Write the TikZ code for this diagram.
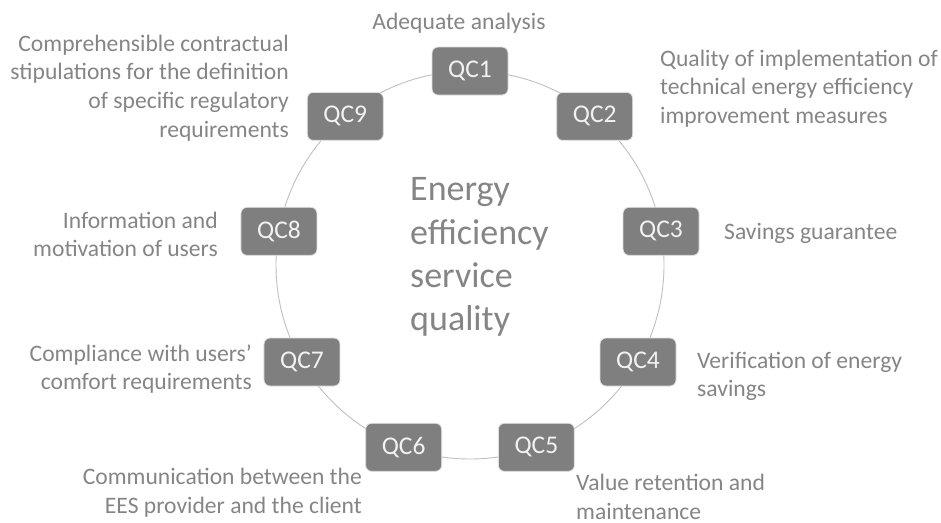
\documentclass[tikz,border=0pt]{standalone}
\usepackage{fontspec}
\setmainfont{Carlito}
\usepackage{tikz}
\usetikzlibrary{calc}

\definecolor{boxgray}{HTML}{7F7F7F}
\definecolor{txtgray}{HTML}{858585}
\definecolor{ringgray}{HTML}{BFBFBF}

\tikzset{
  qcbox/.style={rectangle, rounded corners=6pt, fill=boxgray, draw=white!88!black,
    line width=0.8pt, minimum width=76pt, minimum height=48pt, inner sep=0pt,
    text=white!95!black, font=\fontsize{25.5}{30}\selectfont},
  lbl/.style={inner sep=0pt, text=txtgray, font=\fontsize{23.6}{28.6}\selectfont},
  ring/.style={draw=ringgray, line width=0.9pt}
}

\begin{document}
\begin{tikzpicture}[x=1pt,y=-1pt]

	\useasboundingbox (0,0) rectangle (941,522);

	% ring and title

	\coordinate (mid) at (470,265);
	\draw[ring] (mid) circle[radius=194pt];
	\node[lbl, anchor=west, align=left, font=\fontsize{36}{43.3}\selectfont] (title) at (410,257)
		{Energy\\efficiency\\service\\quality};

	% quality criteria boxes

	\foreach \i in {1,...,9}
		\node[qcbox] (qc\i) at ($(mid)+({40*\i-130}:194)$) {QC\i};

	% descriptions

	\node[lbl, anchor=center] (lab1) at (459,23) {Adequate analysis};
	\node[lbl, anchor=west, align=left] (lab2) at (660,88.5)
		{Quality of implementation of\\technical energy efficiency\\improvement measures};
	\node[lbl, anchor=west] (lab3) at (724,233) {Savings guarantee};
	\node[lbl, anchor=west, align=left] (lab4) at (697,376.5)
		{Verification of energy\\savings};
	\node[lbl, anchor=west, align=left] (lab5) at (576,497)
		{Value retention and\\maintenance};
	\node[lbl, anchor=east, align=right] (lab6) at (362,492.5)
		{Communication between the\\EES provider and the client};
	\node[lbl, anchor=east, align=right] (lab7) at (252,369)
		{Compliance with users’\\comfort requirements};
	\node[lbl, anchor=east, align=right] (lab8) at (218,234.5)
		{Information and\\motivation of users};
	\node[lbl, anchor=east, align=right] (lab9) at (289,88)
		{Comprehensible contractual\\stipulations for the definition\\of specific regulatory\\requirements};

\end{tikzpicture}
\end{document}
